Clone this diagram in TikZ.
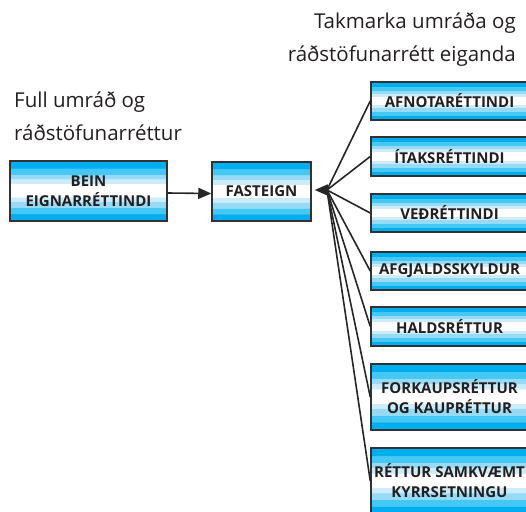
\documentclass[tikz,border=0pt]{standalone}
\usepackage{fontspec}
\setmainfont{Open Sans}
\usetikzlibrary{arrows.meta}
\definecolor{cA}{RGB}{0,174,239}
\definecolor{cB}{RGB}{70,200,244}
\definecolor{cC}{RGB}{150,218,246}
\definecolor{cD}{RGB}{205,236,250}
\definecolor{txt}{RGB}{35,31,32}
\definecolor{edge}{RGB}{50,50,50}
\pgfdeclareverticalshading{bands}{100bp}{%
color(0bp)=(cA); color(31bp)=(cA);
color(31.1bp)=(cB); color(36bp)=(cB);
color(36.1bp)=(cC); color(41bp)=(cC);
color(41.1bp)=(cD); color(45bp)=(cD);
color(45.1bp)=(white); color(56bp)=(white);
color(56.1bp)=(cD); color(60bp)=(cD);
color(60.1bp)=(cC); color(64bp)=(cC);
color(64.1bp)=(cB); color(69bp)=(cB);
color(69.1bp)=(cA); color(100bp)=(cA)}
\tikzset{
  box/.style={draw=edge, line width=1.5pt, shading=bands, inner sep=0pt,
    font=\fontsize{15}{20}\selectfont\bfseries, text=txt, align=center},
  rbox/.style={box, minimum width=157pt},
  head/.style={font=\fontsize{20.5}{32.5}\selectfont, text=txt, inner sep=0pt},
  conn/.style={draw=black!85, line width=1.6pt},
  arr/.style={conn, -{Triangle[length=13pt,width=11pt]}},
}
\begin{document}
\begin{tikzpicture}[x=1pt,y=-1pt]
\path[use as bounding box] (0,0) rectangle (526,511);
\clip (0,0) rectangle (526,511);
\node[head, anchor=base east, align=right] (hr) at (516,61) {Takmarka umráða og\\ráðstöfunarrétt eiganda};
\node[head, anchor=base west, align=left] (hl) at (14,140) {Full umráð og\\ráðstöfunarréttur};
\node[box, minimum width=157pt, minimum height=60pt] (bein) at (88.5,191) {BEIN\\EIGNARRÉTTINDI};
\node[box, minimum width=99pt, minimum height=59pt] (fast) at (261.5,191.5) {FASTEIGN};
\node[rbox, minimum height=38pt] (r1) at (449.5,101) {AFNOTARÉTTINDI};
\node[rbox, minimum height=39pt] (r2) at (449.5,156.5) {ÍTAKSRÉTTINDI};
\node[rbox, minimum height=38pt] (r3) at (449.5,213) {VEÐRÉTTINDI};
\node[rbox, minimum height=38pt] (r4) at (449.5,271) {AFGJALDSSKYLDUR};
\node[rbox, minimum height=39pt] (r5) at (449.5,326.5) {HALDSRÉTTUR};
\node[rbox, minimum height=66pt] (r6) at (449.5,397) {FORKAUPSRÉTTUR\\OG KAUPRÉTTUR};
\node[rbox, minimum height=66pt] (r7) at (449.5,481) {RÉTTUR SAMKVÆMT\\KYRRSETNINGU};
\coordinate (fan) at (327,190);
\draw[arr] ([yshift=-2pt]bein.east) -- ([yshift=-2pt]fast.west);
\foreach \r in {r1,r2,r3,r4,r5,r6,r7}{\draw[conn] (fan) -- (\r.west);}
\draw[arr, shorten >=3pt] (fan) -- (fast.east |- fan);
\end{tikzpicture}
\end{document}
